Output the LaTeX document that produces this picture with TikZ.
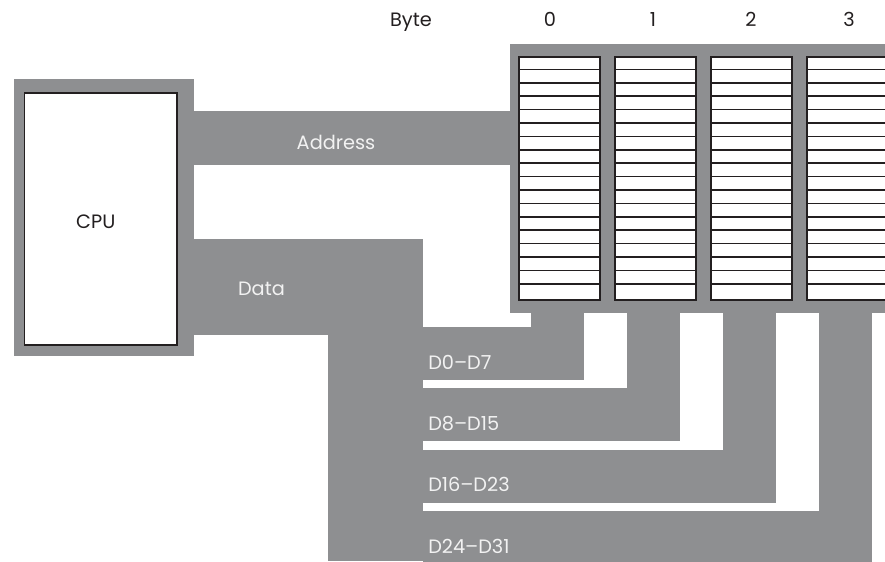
\documentclass[tikz,border=0pt]{standalone}
\usepackage{fontspec}
\setmainfont{Poppins}
\usetikzlibrary{positioning}
\definecolor{busgray}{HTML}{8E8F91}
\definecolor{ink}{HTML}{231F20}
\definecolor{paleink}{HTML}{F2F2F2}
\tikzset{
  bus/.style={fill=busgray,draw=none},
  cpubox/.style={rectangle,draw=ink,line width=1.2pt,fill=white,minimum width=114.2pt,minimum height=189pt,inner sep=0pt},
  cell/.style={rectangle,draw=ink,line width=1.5pt,fill=white,minimum width=60.75pt,minimum height=182.25pt,inner sep=0pt,anchor=north west},
  rowline/.style={draw=ink,line width=1.1pt},
  darktext/.style={font=\fontsize{14.5}{17}\selectfont,text=ink,inner sep=0pt,anchor=base},
  bustext/.style={font=\fontsize{14.5}{17}\selectfont,text=paleink,inner sep=0pt,anchor=base},
  bitstext/.style={bustext,anchor=base west}
}
\begin{document}
\begin{tikzpicture}[x=0.75pt,y=-0.75pt]
  \useasboundingbox (0,0) rectangle (885,561);
  \fill[bus] (14,79) rectangle (194,356);
  \fill[bus] (194,111) rectangle (510,165);
  \fill[bus] (510,44) rectangle (885,313);
  \fill[bus] (194,239) rectangle (423,335);
  \fill[bus] (328,239) rectangle (423,561);
  \foreach \k in {0,...,3} {
    \pgfmathsetmacro{\xl}{518+96*\k}
    \pgfmathsetmacro{\yt}{327+61.3*\k}
    \fill[bus] (423,\yt) rectangle (\xl+66,\yt+53);
    \fill[bus] (\xl+13,313) rectangle (\xl+66,\yt+53);
  }
  \node[cpubox] (cpu) at (100.8,219) {};
  \node[darktext] (cpulabel) at (95.8,228.3) {CPU};
  \foreach \k in {0,...,3} {
    \pgfmathsetmacro{\xl}{518+96*\k}
    \node[cell] (col\k) at (\xl,56) {};
    \foreach \j in {1,...,17}
      \draw[rowline] (\xl,56+13.4*\j) -- (\xl+81,56+13.4*\j);
  }
  \node[darktext] (byte) at (411,26.7) {Byte};
  \foreach \k/\xb in {0/550,1/653,2/751,3/849}
    \node[darktext] (byte\k) at (\xb,26.7) {\k};
  \node[bustext] (address) at (336,149) {Address};
  \node[bustext] (data) at (261.5,295.7) {Data};
  \node[bitstext] (bits0) at (428,369) {D0--D7};
  \node[bitstext] (bits1) at (428,430.3) {D8--D15};
  \node[bitstext] (bits2) at (428,491.7) {D16--D23};
  \node[bitstext] (bits3) at (428,553) {D24--D31};
\end{tikzpicture}
\end{document}
